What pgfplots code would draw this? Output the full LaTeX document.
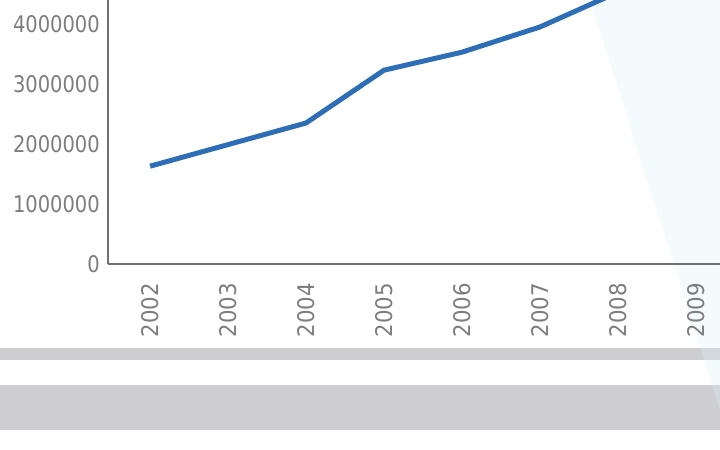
\documentclass[border=0pt]{standalone}
\usepackage{fontspec}
\setmainfont{DejaVu Sans}
\newfontfamily\ytickfont{DejaVu Sans}[FakeStretch=0.85]
\newfontfamily\xtickfont{DejaVu Sans}[FakeStretch=0.93]
\usepackage{pgfplots}
\pgfplotsset{compat=1.18}
\definecolor{linecol}{RGB}{46,110,182}
\definecolor{tickcol}{RGB}{125,125,125}
\definecolor{axiscol}{RGB}{112,112,112}
\definecolor{bandcol}{RGB}{206,206,209}
\definecolor{glow}{RGB}{216,243,250}
\begin{document}
\begin{tikzpicture}[x=1bp,y=1bp]
\useasboundingbox (0,0) rectangle (720,450);
% background bands
\fill[bandcol] (0,90) rectangle (720,102);
\fill[bandcol] (0,20) rectangle (720,65);
% light glow at right (behind the chart)
\fill[glow, opacity=0.3] (590,450) -- (720,450) -- (720,40) -- cycle;
\begin{axis}[
  at={(108bp,186bp)}, anchor=south west,
  scale only axis, width=612bp, height=264bp,
  xmin=2001.46, xmax=2009.31,
  ymin=0, ymax=4400000,
  axis lines=left,
  axis line style={-, draw=axiscol, line width=1.6bp},
  major tick length=0pt,
  xtick={2002,2003,2004,2005,2006,2007,2008,2009},
  xticklabels={2002,2003,2004,2005,2006,2007,2008,2009},
  ytick={0,1000000,2000000,3000000,4000000},
  yticklabels={0,1000000,2000000,3000000,4000000},
  scaled y ticks=false,
  tick label style={text=tickcol},
  yticklabel style={font=\ytickfont\fontsize{23}{23}\selectfont, anchor=east, inner sep=0pt, xshift=-8bp},
  xticklabel style={font=\xtickfont\fontsize{23}{23}\selectfont, anchor=east, rotate=90, inner sep=0pt, xshift=-19bp},
  clip=true,
]
\addplot[color=linecol, line width=5bp, line join=round] coordinates {
  (2002,1630000) (2003,1990000) (2004,2350000) (2005,3230000)
  (2006,3530000) (2007,3950000) (2008,4530000)
};
\end{axis}
\end{tikzpicture}
\end{document}
